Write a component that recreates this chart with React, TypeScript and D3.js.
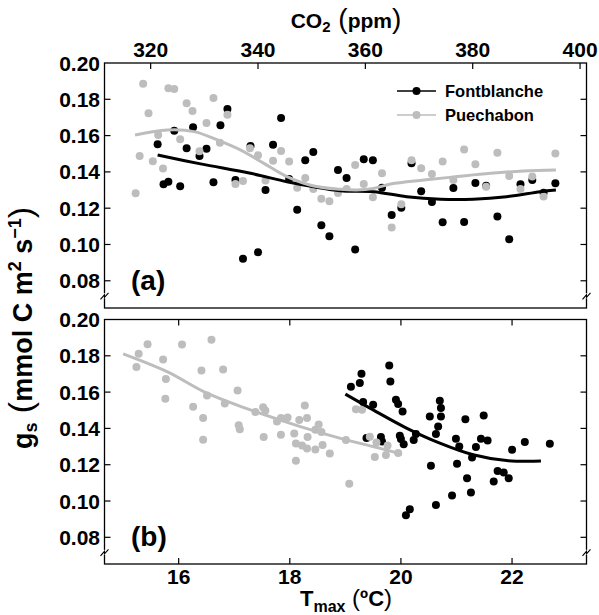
import React, { useEffect, useRef } from "react";
import * as d3 from "d3";

const W = 599;
const H = 615;
const FONT = "'Liberation Sans', Arial, sans-serif";
const BLACK = "#000000";
const GREY = "#bdbdbd";

// panel frames (page px)
const left = 104.5;
const right = 586.5;
const topPanel = { top: 63, bottom: 308 };
const botPanel = { top: 319.5, bottom: 564 };

// tick values
const co2Ticks = [320, 340, 360, 380, 400];
const tmaxTicks = [16, 18, 20, 22];
const gsTicks = [0.08, 0.1, 0.12, 0.14, 0.16, 0.18, 0.2];

// (a) gs vs CO2
const fontCo2 = [321.3, 322.4, 323.3, 324.4, 325.5, 326.7, 327.9, 329.1, 330.4, 331.7, 333.0, 334.3, 335.8, 337.2, 338.6, 340.0, 341.4, 342.8, 344.3, 345.8, 347.3, 348.8, 350.3, 351.8, 353.3, 354.9, 356.5, 358.1, 359.7, 361.4, 363.1, 364.9, 366.7, 368.6, 370.4, 372.4, 374.4, 376.4, 378.4, 380.5, 382.5, 384.6, 386.8, 388.9, 391.1, 393.2, 395.4];
const fontCo2Gs = [0.1552, 0.1332, 0.1346, 0.1627, 0.1321, 0.153, 0.1646, 0.1488, 0.1528, 0.1343, 0.1657, 0.1747, 0.1355, 0.0922, 0.1543, 0.0957, 0.13, 0.155, 0.1697, 0.1361, 0.1192, 0.1464, 0.151, 0.1106, 0.1045, 0.141, 0.1366, 0.0973, 0.147, 0.1464, 0.1313, 0.1163, 0.1203, 0.1447, 0.1293, 0.1234, 0.1122, 0.1311, 0.1124, 0.1339, 0.1324, 0.1154, 0.1029, 0.1332, 0.1355, 0.1285, 0.1337];
const pueCo2 = [317.2, 317.95, 318.6, 319.6, 320.4, 321.4, 322.3, 323.3, 324.4, 325.5, 326.7, 327.8, 329.1, 330.4, 331.7, 332.9, 334.3, 335.8, 337.2, 338.5, 340.0, 341.4, 342.8, 344.3, 345.8, 347.3, 348.8, 350.3, 351.8, 353.3, 354.9, 356.5, 358.1, 359.7, 361.4, 363.1, 364.9, 366.7, 368.6, 370.4, 372.4, 374.4, 376.4, 378.4, 380.5, 382.5, 384.6, 386.8, 388.9, 391.1, 393.2, 395.4];
const pueCo2Gs = [0.1282, 0.1488, 0.1886, 0.1723, 0.1458, 0.1603, 0.1418, 0.1861, 0.1857, 0.158, 0.1778, 0.1736, 0.1514, 0.1669, 0.1807, 0.1561, 0.1715, 0.1333, 0.135, 0.153, 0.1491, 0.1352, 0.1462, 0.1515, 0.1457, 0.1313, 0.1366, 0.1306, 0.1252, 0.1238, 0.1284, 0.1306, 0.1438, 0.1333, 0.126, 0.1392, 0.1093, 0.1222, 0.1464, 0.142, 0.1388, 0.1457, 0.1355, 0.1524, 0.1442, 0.1318, 0.1506, 0.1377, 0.1306, 0.1374, 0.1265, 0.1502];

// smoothed fits, panel (a)
const fontCo2FitX = [321.3, 329.3, 338.6, 345.4, 350.4, 355.3, 361.5, 367.7, 374, 380.1, 386.3, 392.6, 395.5];
const fontCo2FitY = [0.1493, 0.1444, 0.1392, 0.1346, 0.1318, 0.1296, 0.1291, 0.1263, 0.1249, 0.1249, 0.1263, 0.1291, 0.13];
const pueCo2FitX = [317.1, 323.1, 328.1, 332.4, 336.7, 341.1, 345.4, 350.4, 355.3, 358.4, 361.5, 364.7, 370.9, 377.1, 383.3, 389.5, 395.5];
const pueCo2FitY = [0.1603, 0.1631, 0.1622, 0.1576, 0.1521, 0.1447, 0.1374, 0.1322, 0.1304, 0.13, 0.1309, 0.1333, 0.1355, 0.1374, 0.1392, 0.1405, 0.141];

// (b) gs vs Tmax
const fontTmax = [19.1, 19.26, 19.29, 19.32, 19.38, 19.5, 19.64, 19.66, 19.79, 19.81, 19.91, 19.95, 20.03, 19.98, 20.0, 20.05, 20.09, 20.16, 20.23, 20.27, 20.52, 20.54, 20.63, 20.63, 20.67, 20.7, 20.72, 20.72, 20.92, 20.99, 21.01, 21.05, 21.16, 21.19, 21.26, 21.28, 21.35, 21.44, 21.49, 21.56, 21.67, 21.74, 21.85, 21.94, 22.0, 22.23, 22.68];
const fontTmaxGs = [0.1629, 0.165, 0.1701, 0.1545, 0.1347, 0.153, 0.1352, 0.1328, 0.1747, 0.1658, 0.1558, 0.1534, 0.1493, 0.1359, 0.1341, 0.1313, 0.0922, 0.0955, 0.1336, 0.1369, 0.1466, 0.1194, 0.0978, 0.1369, 0.1411, 0.1552, 0.1512, 0.1466, 0.103, 0.1343, 0.1205, 0.13, 0.1451, 0.1126, 0.1047, 0.124, 0.1297, 0.1343, 0.1471, 0.1333, 0.1108, 0.1165, 0.1157, 0.1126, 0.1282, 0.1325, 0.1316];
const pueTmax = [15.24, 15.28, 15.44, 15.72, 15.77, 15.76, 16.06, 16.26, 16.41, 16.44, 16.44, 16.51, 16.59, 16.8, 16.83, 17.06, 17.08, 17.1, 17.38, 17.52, 17.56, 17.53, 17.77, 17.84, 17.96, 17.84, 18.08, 18.11, 18.11, 18.17, 18.22, 18.27, 18.31, 18.32, 18.31, 18.46, 18.46, 18.52, 18.57, 18.59, 18.72, 19.01, 19.07, 19.19, 19.3, 19.44, 19.53, 19.56, 19.73, 19.76, 19.95];
const pueTmaxGs = [0.1738, 0.1811, 0.1864, 0.178, 0.1672, 0.1563, 0.1862, 0.1519, 0.1719, 0.1458, 0.1337, 0.1581, 0.1888, 0.1725, 0.1537, 0.1609, 0.1418, 0.1396, 0.149, 0.1517, 0.1499, 0.1352, 0.1438, 0.1457, 0.146, 0.1365, 0.1372, 0.1317, 0.1222, 0.1446, 0.1306, 0.1526, 0.1457, 0.1352, 0.1289, 0.1392, 0.1284, 0.1421, 0.138, 0.1308, 0.1262, 0.1336, 0.1095, 0.1506, 0.1503, 0.1354, 0.1242, 0.1322, 0.1253, 0.1306, 0.1264];

// fits, panel (b)
const fontTmaxFitX = [19.0, 19.5, 20.1, 20.7, 21.3, 21.9, 22.52];
const fontTmaxFitY = [0.1589, 0.1502, 0.1402, 0.1319, 0.1255, 0.1223, 0.122];
const pueTmaxFitX = [15.0, 15.79, 16.51, 17.29, 18.19, 19.01, 19.5, 20.02];
const pueTmaxFitY = [0.1811, 0.1713, 0.1594, 0.1502, 0.141, 0.1337, 0.13, 0.1258];

const zip = (xs: number[], ys: number[]) => xs.map((x, i) => [x, ys[i]] as [number, number]);

function drawPanel(svg: any, opts: any) {
  const { x, y, top, bottom, label, showTopLabels, showBottomTicks, series } = opts;
  const g = svg.append("g");

  // points then fitted lines (grey drawn over black)
  series.forEach((s: any) => {
    g.append("g").selectAll("circle")
      .data(s.points)
      .join("circle")
      .attr("cx", (d: any) => x(d[0]))
      .attr("cy", (d: any) => y(d[1]))
      .attr("r", 4)
      .attr("fill", s.color);
  });
  const line = d3.line<[number, number]>()
    .x(d => x(d[0]))
    .y(d => y(d[1]))
    .curve(d3.curveCatmullRom.alpha(0.5));
  series.forEach((s: any) => {
    g.append("path")
      .attr("d", line(s.fit))
      .attr("fill", "none")
      .attr("stroke", s.color)
      .attr("stroke-width", 3);
  });

  // frame
  g.append("rect")
    .attr("x", left).attr("y", top)
    .attr("width", right - left).attr("height", bottom - top)
    .attr("fill", "none").attr("stroke", "#000").attr("stroke-width", 1.3);

  // inward ticks
  const tl = 6;
  const yTickVals = gsTicks.filter(v => v < 0.2);
  yTickVals.forEach(v => {
    g.append("line").attr("x1", left).attr("x2", left + tl).attr("y1", y(v)).attr("y2", y(v)).attr("stroke", "#000").attr("stroke-width", 1.2);
    g.append("line").attr("x1", right).attr("x2", right - tl).attr("y1", y(v)).attr("y2", y(v)).attr("stroke", "#000").attr("stroke-width", 1.2);
  });
  opts.xTicks.forEach((v: number) => {
    g.append("line").attr("x1", x(v)).attr("x2", x(v)).attr("y1", top).attr("y2", top + tl).attr("stroke", "#000").attr("stroke-width", 1.2);
    if (showBottomTicks) {
      g.append("line").attr("x1", x(v)).attr("x2", x(v)).attr("y1", bottom).attr("y2", bottom - tl).attr("stroke", "#000").attr("stroke-width", 1.2);
    }
  });

  // y tick labels
  g.append("g").selectAll("text")
    .data(gsTicks)
    .join("text")
    .attr("x", 100)
    .attr("y", (d: number) => y(d))
    .attr("dy", "0.36em")
    .attr("text-anchor", "end")
    .attr("font-family", FONT)
    .attr("font-weight", "bold")
    .attr("font-size", 21)
    .text((d: number) => d3.format(".2f")(d));

  // x tick labels
  const xlabY = showTopLabels ? top - 6 : bottom + 20;
  g.append("g").selectAll("text")
    .data(opts.xTicks)
    .join("text")
    .attr("x", (d: number) => x(d))
    .attr("y", xlabY)
    .attr("text-anchor", "middle")
    .attr("font-family", FONT)
    .attr("font-weight", "bold")
    .attr("font-size", 21)
    .text((d: number) => d);

  // axis break marks
  const by = y(0.08) + 15;
  [left, right].forEach(bx => {
    g.append("rect").attr("x", bx - 1.5).attr("y", by - 2.5).attr("width", 3).attr("height", 5).attr("fill", "#fff");
    g.append("path")
      .attr("d", `M${bx - 4},${by + 3.5} L${bx},${by - 1} L${bx},${by + 1.5} L${bx + 4},${by - 3}`)
      .attr("fill", "none").attr("stroke", "#000").attr("stroke-width", 1.1);
  });

  // panel label
  g.append("text")
    .attr("x", 131)
    .attr("y", y(0.08) + 9)
    .attr("font-family", FONT)
    .attr("font-weight", "bold")
    .attr("font-size", 28)
    .text(label);
}

function renderChart(svgRef: any) {
  const svg = d3.select(svgRef.current);
  svg.selectAll("*").remove();

  const xCo2 = d3.scaleLinear().domain([311.4, 401.2]).range([left, right]);
  const yTop = d3.scaleLinear().domain([0.065, 0.2]).range([topPanel.bottom, topPanel.top]);
  const xT = d3.scaleLinear().domain([14.665, 23.34]).range([left, right]);
  const yBot = d3.scaleLinear().domain([0.0653, 0.2]).range([botPanel.bottom, botPanel.top]);

  drawPanel(svg, {
    x: xCo2, y: yTop, top: topPanel.top, bottom: topPanel.bottom, label: "(a)",
    xTicks: co2Ticks, showTopLabels: true, showBottomTicks: false,
    series: [
      { color: BLACK, points: zip(fontCo2, fontCo2Gs), fit: zip(fontCo2FitX, fontCo2FitY) },
      { color: GREY, points: zip(pueCo2, pueCo2Gs), fit: zip(pueCo2FitX, pueCo2FitY) },
    ],
  });

  drawPanel(svg, {
    x: xT, y: yBot, top: botPanel.top, bottom: botPanel.bottom, label: "(b)",
    xTicks: tmaxTicks, showTopLabels: false, showBottomTicks: true,
    series: [
      { color: BLACK, points: zip(fontTmax, fontTmaxGs), fit: zip(fontTmaxFitX, fontTmaxFitY) },
      { color: GREY, points: zip(pueTmax, pueTmaxGs), fit: zip(pueTmaxFitX, pueTmaxFitY) },
    ],
  });

  // legend
  const legend = [
    { name: "Fontblanche", color: BLACK },
    { name: "Puechabon", color: GREY },
  ];
  legend.forEach((d, i) => {
    const ly = 91 + i * 24;
    svg.append("line").attr("x1", 397).attr("x2", 436).attr("y1", ly).attr("y2", ly).attr("stroke", d.color).attr("stroke-width", 1.5);
    svg.append("circle").attr("cx", 416.5).attr("cy", ly).attr("r", 4).attr("fill", d.color);
    svg.append("text")
      .attr("x", 445).attr("y", ly).attr("dy", "0.36em")
      .attr("font-family", FONT).attr("font-weight", "bold").attr("font-size", 16.5)
      .text(d.name);
  });

  // axis titles
  const top = svg.append("text")
    .attr("x", 346).attr("y", 28)
    .attr("text-anchor", "middle")
    .attr("font-family", FONT).attr("font-weight", "bold").attr("font-size", 21);
  top.append("tspan").text("CO");
  top.append("tspan").attr("font-size", 15).attr("dy", 4).text("2");
  top.append("tspan").attr("dy", -4).attr("font-weight", "normal").attr("font-size", 28).text(" (");
  top.append("tspan").text("ppm");
  top.append("tspan").attr("font-weight", "normal").attr("font-size", 28).text(")");

  const bot = svg.append("text")
    .attr("x", 346).attr("y", 606)
    .attr("text-anchor", "middle")
    .attr("font-family", FONT).attr("font-weight", "bold").attr("font-size", 22);
  bot.append("tspan").text("T");
  bot.append("tspan").attr("font-size", 16).attr("dy", 6).text("max");
  bot.append("tspan").attr("dy", -6).attr("font-weight", "normal").attr("font-size", 24).text(" (");
  bot.append("tspan").text("ºC");
  bot.append("tspan").attr("font-weight", "normal").attr("font-size", 24).text(")");

  const yt = svg.append("text")
    .attr("transform", "translate(32,328) rotate(-90)")
    .attr("text-anchor", "middle")
    .attr("font-family", FONT).attr("font-weight", "bold").attr("font-size", 27);
  yt.append("tspan").text("g");
  yt.append("tspan").attr("font-size", 18).attr("dy", 5).text("s");
  yt.append("tspan").attr("dy", -5).attr("font-weight", "normal").attr("font-size", 34).text(" (");
  yt.append("tspan").text("mmol C m");
  yt.append("tspan").attr("font-size", 18).attr("dy", -11).text("2");
  yt.append("tspan").attr("dy", 11).text(" s");
  yt.append("tspan").attr("font-size", 18).attr("dy", -11).text("−1");
  yt.append("tspan").attr("dy", 11).attr("font-weight", "normal").attr("font-size", 34).text(")");
}

export default function App() {
  const svgRef = useRef<SVGSVGElement>(null);

  useEffect(() => {
    renderChart(svgRef);
  }, []);

  return (
    <svg
      ref={svgRef}
      width={W}
      height={H}
      style={{ position: "absolute", left: 0, top: 0, background: "#fff" }}
    />
  );
}
